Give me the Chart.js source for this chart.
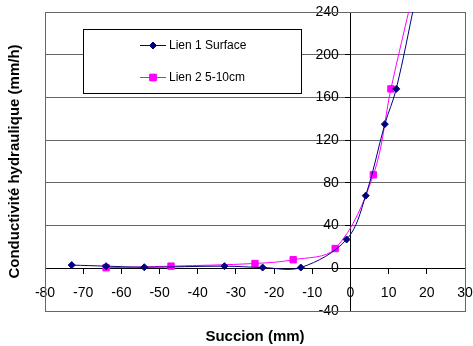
<!DOCTYPE html>
<html>
<head>
<meta charset="utf-8">
<script src="https://cdn.jsdelivr.net/npm/chart.js@4.4.1/dist/chart.umd.min.js"></script>
<style>
  html, body { margin: 0; padding: 0; background: #fff; }
  #wrap { width: 473px; height: 346px; }
</style>
</head>
<body>
<div id="wrap"><canvas id="chart"></canvas></div>
<script>
// Conductivité hydraulique en fonction de la succion

const seriesLabels = ['Lien 1 Surface', 'Lien 2 5-10cm'];

// Lien 1 (surface)
const lien1Succion = [-73, -64, -54, -33, -23, -13, -1, 4, 9, 12, 17];
const lien1Conduct = [3, 2, 1, 2, 0.7, 0.7, 27, 68, 135, 168, 252];

// Lien 2 (5-10 cm)
const lien2Succion = [-64, -47, -25, -15, -4, 6, 10.6, 16.2];
const lien2Conduct = [0.5, 2, 4.5, 8, 18.5, 87.5, 168, 255];

const xTickValues = [-80, -70, -60, -50, -40, -30, -20, -10, 0, 10, 20, 30];
const yTickValues = [-40, 0, 40, 80, 120, 160, 200, 240];

const xTitle = 'Succion (mm)';
const yTitle = 'Conductivité hydraulique (mm/h)';

const fontFamily = "'Liberation Sans', Arial, sans-serif";
const navy = '#000080';
const magenta = '#FF00FF';

function toPoints(xs, ys) {
  return xs.map((x, i) => ({ x: x, y: ys[i] }));
}

// Plot area frame (left/right edges)
const framePlugin = {
  id: 'frame',
  beforeDatasetsDraw(chart) {
    const { ctx, chartArea: a } = chart;
    ctx.save();
    ctx.strokeStyle = '#666666';
    ctx.lineWidth = 1;
    ctx.strokeRect(Math.round(a.left) + 0.5, Math.round(a.top) + 0.5,
      Math.round(a.right - a.left), Math.round(a.bottom - a.top));
    ctx.restore();
  }
};

// Boxed legend in the upper left of the plot
const boxLegendPlugin = {
  id: 'boxLegend',
  beforeDatasetsDraw(chart) {
    const { ctx, chartArea: a } = chart;
    const left = Math.round(a.left + 38), top = Math.round(a.top + 17), w = 218, h = 64;
    ctx.save();
    ctx.fillStyle = '#ffffff';
    ctx.fillRect(left, top, w, h);
    ctx.strokeStyle = '#000000';
    ctx.lineWidth = 1;
    ctx.strokeRect(left + 0.5, top + 0.5, w, h);

    chart.data.datasets.forEach((ds, i) => {
      const y = Math.round(top + 16 + i * 32) + 0.5;
      const x0 = left + 57, x1 = left + 83;
      ctx.strokeStyle = ds.borderColor;
      ctx.lineWidth = 1;
      ctx.beginPath();
      ctx.moveTo(x0, y);
      ctx.lineTo(x1, y);
      ctx.stroke();
      Chart.helpers.drawPoint(ctx, {
        pointStyle: ds.pointStyle,
        radius: ds.pointRadius,
        borderWidth: 1,
        rotation: 0
      }, (x0 + x1) / 2, y);
      ctx.fillStyle = ds.pointBackgroundColor;
      ctx.strokeStyle = ds.pointBorderColor;
      ctx.fill();
      ctx.stroke();

      ctx.fillStyle = '#000000';
      ctx.font = '12px ' + fontFamily;
      ctx.textAlign = 'left';
      ctx.textBaseline = 'middle';
      ctx.fillText(ds.label, x1 + 3, y);
    });
    ctx.restore();
  }
};

const ctx = document.getElementById('chart').getContext('2d');
new Chart(ctx, {
  type: 'line',
  data: {
    datasets: [
      {
        label: seriesLabels[0],
        data: toPoints(lien1Succion, lien1Conduct),
        borderColor: navy,
        backgroundColor: navy,
        pointBackgroundColor: navy,
        pointBorderColor: navy,
        borderWidth: 1,
        pointStyle: 'rectRot',
        pointRadius: 3.5,
        tension: 0.35,
        fill: false
      },
      {
        label: seriesLabels[1],
        data: toPoints(lien2Succion, lien2Conduct),
        borderColor: magenta,
        backgroundColor: magenta,
        pointBackgroundColor: magenta,
        pointBorderColor: magenta,
        borderWidth: 1,
        pointStyle: 'rect',
        pointRadius: 4.5,
        tension: 0.35,
        fill: false
      }
    ]
  },
  options: {
    responsive: true,
    maintainAspectRatio: false,
    animation: false,
    layout: { padding: { top: 12, right: 8, left: 0, bottom: 0 } },
    plugins: {
      legend: { display: false },
      tooltip: { enabled: false },
      title: {
        display: true,
        text: xTitle,
        position: 'bottom',
        fullSize: false,
        color: '#000000',
        font: { family: fontFamily, size: 15, weight: 'bold' },
        padding: { top: 17, bottom: 0 }
      },
      subtitle: {
        display: true,
        text: yTitle,
        position: 'left',
        fullSize: false,
        color: '#000000',
        font: { family: fontFamily, size: 15, weight: 'bold' },
        padding: { top: 6, bottom: 21 }
      }
    },
    scales: {
      x: {
        type: 'linear',
        min: -80,
        max: 30,
        position: { y: 0 },
        afterBuildTicks: axis => { axis.ticks = xTickValues.map(v => ({ value: v })); },
        afterFit: scale => { scale.paddingLeft = 0; scale.paddingRight = 0; },
        grid: { drawOnChartArea: false, tickLength: 5, tickColor: '#000000' },
        border: { display: true, color: '#000000', width: 1 },
        ticks: {
          color: '#000000',
          font: { family: fontFamily, size: 14 },
          padding: 11,
          maxRotation: 0,
          autoSkip: false
        }
      },
      y: {
        type: 'linear',
        min: -40,
        max: 240,
        position: { x: 0 },
        afterBuildTicks: axis => { axis.ticks = yTickValues.map(v => ({ value: v })); },
        afterFit: scale => { scale.paddingTop = 0; scale.paddingBottom = 0; },
        grid: { color: '#666666', lineWidth: 1, tickLength: 5, tickColor: '#000000' },
        border: { display: true, color: '#000000', width: 1 },
        ticks: {
          color: '#000000',
          font: { family: fontFamily, size: 14 },
          autoSkip: false,
          // labels sit a little left of the vertical axis
          callback: value => value + '   '
        }
      }
    }
  },
  plugins: [framePlugin, boxLegendPlugin]
});
</script>
</body>
</html>
